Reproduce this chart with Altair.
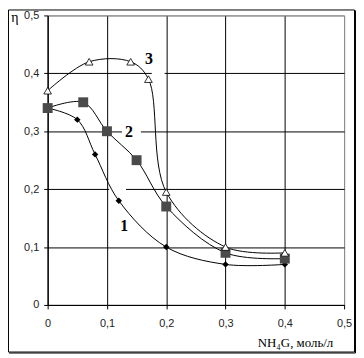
import altair as alt
import pandas as pd

# Series (x: NH4G, mol/L ; y: eta)
x1 = [0.0, 0.05, 0.08, 0.12, 0.2, 0.3, 0.4]
y1 = [0.34, 0.32, 0.26, 0.18, 0.10, 0.07, 0.07]
x2 = [0.0, 0.06, 0.10, 0.15, 0.2, 0.3, 0.4]
y2 = [0.34, 0.35, 0.30, 0.25, 0.17, 0.09, 0.08]
x3 = [0.0, 0.07, 0.14, 0.17, 0.2, 0.3, 0.4]
y3 = [0.37, 0.42, 0.42, 0.39, 0.195, 0.10, 0.09]

ticks = [0, 0.1, 0.2, 0.3, 0.4, 0.5]

# curve number labels
lab_text = ["1", "2", "3"]
lab_x = [0.129, 0.137, 0.171]
lab_y = [0.136, 0.298, 0.424]

# white label boxes that break the grid
box_x = [0.1254, 0.1037, 0.1756]
box_x2 = [0.1572, 0.1321, 0.1973]
box_y = [0.2842, 0.1901, 0.3887]
box_y2 = [0.3134, 0.2089, 0.4075]

W, H = 299, 292

df = pd.concat([
    pd.DataFrame({"s": "1", "x": x1, "y": y1}),
    pd.DataFrame({"s": "2", "x": x2, "y": y2}),
    pd.DataFrame({"s": "3", "x": x3, "y": y3}),
])
labels = pd.DataFrame({"t": lab_text, "x": lab_x, "y": lab_y})
boxes = pd.DataFrame({"x": box_x, "x2": box_x2, "y": box_y, "y2": box_y2})

lbl_expr = "datum.value == 0 ? '0' : replace(format(datum.value, '.1f'), '.', ',')"
grid_col = {"condition": {"test": "datum.value >= 0.5", "value": "#8c8c8c"}, "value": "black"}

xs = alt.Scale(domain=[0, 0.5], nice=False, zero=False)
ys = alt.Scale(domain=[0, 0.5], nice=False, zero=False)

xax = alt.Axis(values=ticks, labelExpr=lbl_expr, grid=True, gridColor=grid_col,
               gridOpacity=1, domainColor="black", tickColor="black", tickSize=4,
               labelFont="Liberation Sans", labelFontSize=11, labelColor="#222222",
               labelPadding=9, title=None, labelFlush=False)
yax = alt.Axis(values=ticks, labelExpr=lbl_expr, grid=True, gridColor=grid_col,
               gridOpacity=1, domainColor="black", tickColor="black", tickSize=4,
               labelFont="Liberation Sans", labelFontSize=11, labelColor="#222222",
               labelPadding=5, title=None, labelFlush=False)

X = alt.X("x:Q", scale=xs, axis=xax)
Y = alt.Y("y:Q", scale=ys, axis=yax)

base = alt.Chart(df)

frame = alt.Chart(pd.DataFrame({"a": [0]})).mark_rect(
    fill=None, stroke="black", strokeWidth=1, clip=False
).encode(x=alt.value(-39.5), x2=alt.value(309.5), y=alt.value(-5.5), y2=alt.value(339.5))
frame_r = alt.Chart(pd.DataFrame({"a": [0]})).mark_rule(color="black", strokeWidth=1, clip=False).encode(
    x=alt.value(310.5), y=alt.value(-5), y2=alt.value(340.5))
frame_b = alt.Chart(pd.DataFrame({"a": [0]})).mark_rule(color="black", strokeWidth=1, clip=False).encode(
    x=alt.value(-39), x2=alt.value(310.5), y=alt.value(340.5))

box_layer = alt.Chart(boxes).mark_rect(fill="white", stroke=None).encode(
    x=alt.X("x:Q", scale=xs, axis=xax), x2="x2:Q",
    y=alt.Y("y:Q", scale=ys, axis=yax), y2="y2:Q")

lines = base.mark_line(interpolate="catmull-rom", color="black", strokeWidth=1).encode(
    x=X, y=Y, detail="s:N")

p1 = alt.Chart(df[df.s == "1"]).mark_point(shape="diamond", filled=True, color="black", size=42, opacity=1).encode(x=X, y=Y)
p2 = alt.Chart(df[df.s == "2"]).mark_point(shape="square", filled=True, color="#4a4a4a", size=100, opacity=1).encode(x=X, y=Y)
p3 = alt.Chart(df[df.s == "3"]).mark_point(shape="triangle-up", filled=True, fill="white", stroke="black",
                                           strokeWidth=0.8, size=60, opacity=1).encode(x=X, y=Y)

txt = alt.Chart(labels).mark_text(font="Liberation Serif", fontSize=16, fontWeight="bold",
                                  color="black", baseline="middle", align="center").encode(
    x=alt.X("x:Q", scale=xs, axis=xax), y=alt.Y("y:Q", scale=ys, axis=yax), text="t:N")

eta = alt.Chart(pd.DataFrame({"a": [0]})).mark_text(
    text="η", font="Liberation Serif", fontSize=14, color="black", baseline="middle", align="center", clip=False
).encode(x=alt.value(-33), y=alt.value(3))

xtitle = alt.Chart(pd.DataFrame({"a": [0]})).mark_text(
    text="NH₄G, моль/л", font="Liberation Serif", fontSize=13, color="black",
    baseline="middle", align="center", clip=False
).encode(x=alt.value(250), y=alt.value(330))

chart = alt.layer(frame, frame_r, frame_b, box_layer, lines, p1, p2, p3, txt, eta, xtitle).properties(
    width=W, height=H,
    autosize=alt.AutoSizeParams(type="none"),
    padding={"left": 40, "top": 6, "right": 12, "bottom": 49},
    background="white",
).configure_view(stroke="#8c8c8c", strokeWidth=1)

chart.save("out.html", embed_options={"renderer": "svg", "actions": False})
